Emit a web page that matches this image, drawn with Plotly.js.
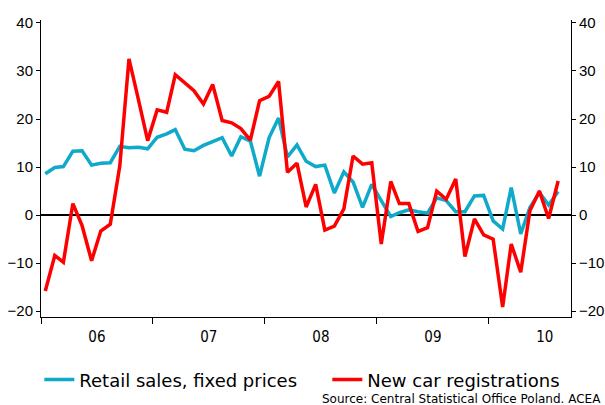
<!DOCTYPE html>
<html>
<head>
<meta charset="utf-8">
<script src="https://cdn.plot.ly/plotly-3.0.1.min.js"></script>
<style>
  html, body { margin: 0; padding: 0; background: #fff; }
  #chart { width: 605px; height: 405px; }
</style>
</head>
<body>
<div id="chart"></div>
<script>
// monthly, Jan 2006 - Aug 2010, % y/y
const startYear = 2006;
const retailSales = [
  8.6, 9.9, 10.1, 13.3, 13.4, 10.4, 10.8, 10.9, 14.3, 14.0,
  14.1, 13.8, 16.2, 16.9, 17.8, 13.7, 13.4, 14.5, 15.3, 16.1,
  12.3, 16.3, 15.4, 8.1, 16.1, 20.2, 12.1, 14.6, 11.2, 10.1,
  10.4, 4.6, 9.0, 6.9, 1.6, 6.4, 3.0, -0.3, 0.5, 1.1,
  0.7, 0.4, 3.6, 3.0, 0.7, 0.7, 4.0, 4.1, -1.2, -2.9,
  5.7, -3.9, 1.6, 4.7, 2.1, 4.9
];
const carRegistrations = [
  -15.8, -8.4, -9.8, 2.4, -2.2, -9.5, -3.3, -1.9, 10.2, 32.5,
  24.0, 15.5, 21.9, 21.4, 29.2, 27.5, 25.9, 23.1, 27.2, 19.7,
  19.2, 18.0, 15.6, 23.8, 24.7, 27.8, 8.9, 10.8, 1.7, 6.4,
  -3.1, -2.3, 1.3, 12.3, 10.6, 10.9, -6.0, 7.0, 2.4, 2.4,
  -3.4, -2.6, 5.0, 3.3, 7.5, -8.6, -0.8, -4.1, -5.0, -19.1,
  -6.0, -11.9, 0.9, 5.0, -0.7, 7.1
];
const yTicks = [-20, -10, 0, 10, 20, 30, 40];
const seriesNames = ["Retail sales, fixed prices", "New car registrations"];
const sourceNote = "Source: Central Statistical Office Poland. ACEA";

const months = retailSales.map((_, i) => {
  const y = startYear + Math.floor(i / 12);
  const m = String(i % 12 + 1).padStart(2, "0");
  return `${y}-${m}-15`;
});

const axisFont = { family: "Liberation Sans, Arial, sans-serif", size: 15, color: "#000" };
const yBase = {
  range: [-21.2, 40.6], tickvals: yTicks, ticks: "outside", ticklen: 4,
  showgrid: false, showline: true, linecolor: "#000", linewidth: 1,
  tickcolor: "#000", tickfont: axisFont, fixedrange: true
};
// container refs so the legends don't push the bottom margin
const legendBase = {
  orientation: "h", xref: "container", yref: "container",
  y: 0.062, yanchor: "middle", xanchor: "left",
  font: { size: 18, family: "DejaVu Sans, sans-serif" }, itemwidth: 30
};

Plotly.newPlot("chart", [
  {
    x: months, y: retailSales, name: seriesNames[0], type: "scatter", mode: "lines",
    line: { color: "#0fa9c9", width: 3.5 }, legend: "legend"
  },
  {
    x: months, y: carRegistrations, name: seriesNames[1], type: "scatter", mode: "lines",
    yaxis: "y2", line: { color: "#ff0000", width: 3.5 }, legend: "legend2"
  }
], {
  width: 605, height: 405,
  margin: { l: 41, r: 34, t: 20, b: 88 },
  paper_bgcolor: "#fff", plot_bgcolor: "#fff",
  font: { family: "DejaVu Sans, sans-serif", color: "#000" },
  showlegend: true,
  legend: { ...legendBase, x: 0.065 },
  legend2: { ...legendBase, x: 0.541 },
  xaxis: {
    type: "date", range: ["2006-01-01", "2010-09-26"],
    tick0: "2006-01-01", dtick: "M12", tickformat: "%y", ticklabelmode: "period",
    ticks: "outside", ticklen: 6, tickcolor: "#000",
    showgrid: false, showline: true, linecolor: "#000", linewidth: 1,
    tickfont: { family: "DejaVu Sans Condensed, DejaVu Sans, sans-serif", size: 15, color: "#000" },
    fixedrange: true
  },
  yaxis: { ...yBase, zeroline: true, zerolinecolor: "#000", zerolinewidth: 1.5 },
  yaxis2: { ...yBase, overlaying: "y", side: "right", zeroline: false },
  annotations: [{
    text: sourceNote, xref: "paper", yref: "paper", x: 1.06, y: -0.275,
    xanchor: "right", yanchor: "middle", showarrow: false,
    font: { size: 12, family: "DejaVu Sans, sans-serif", color: "#000" }
  }]
}, { displayModeBar: false, staticPlot: true });
</script>
</body>
</html>
